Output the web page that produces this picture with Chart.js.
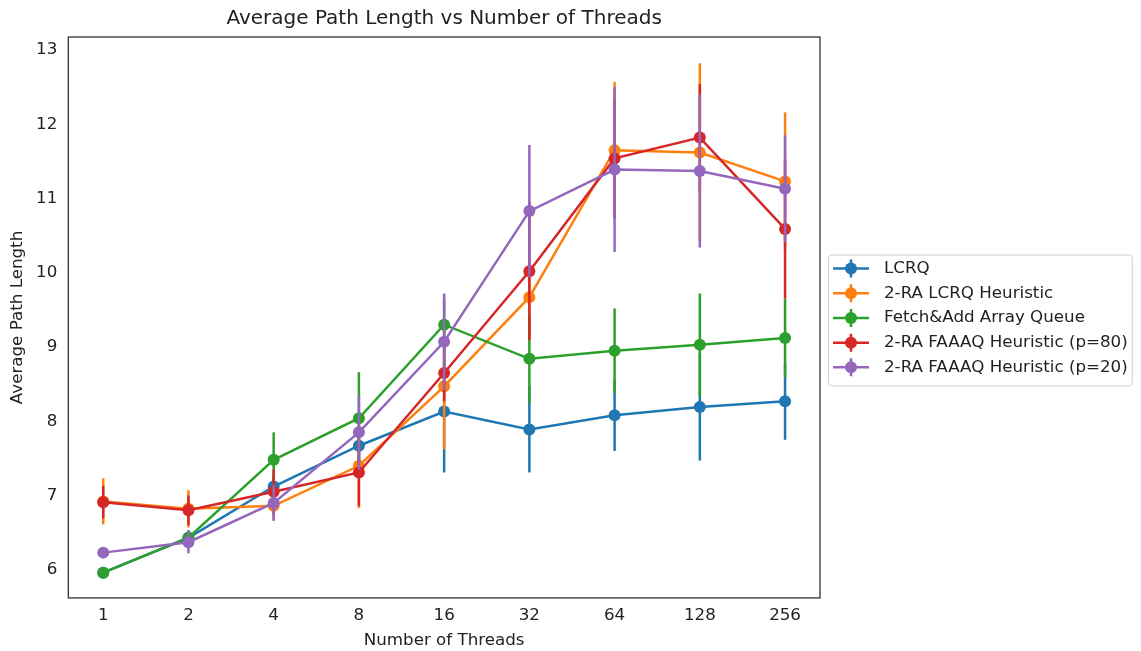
<!DOCTYPE html>
<html>
<head>
<meta charset="utf-8">
<script src="https://cdn.jsdelivr.net/npm/chart.js@4"></script>
<style>
  html, body { margin: 0; padding: 0; background: #fff; }
  #wrap { width: 1141px; height: 651px; }
</style>
</head>
<body>
<div id="wrap"><canvas id="pathChart"></canvas></div>
<script>
// thread counts on the x axis
const threads = [1, 2, 4, 8, 16, 32, 64, 128, 256];

const labels = [
    'LCRQ',
    '2-RA LCRQ Heuristic',
    'Fetch&Add Array Queue',
    '2-RA FAAAQ Heuristic (p=80)',
    '2-RA FAAAQ Heuristic (p=20)'
];

// mean path length per series
const lcrq      = [5.96, 6.43, 7.12, 7.67, 8.13, 7.89, 8.08, 8.19, 8.27];
const lcrq2ra   = [6.92, 6.82, 6.86, 7.40, 8.47, 9.67, 11.65, 11.62, 11.23];
const faaaq     = [5.96, 6.43, 7.48, 8.04, 9.30, 8.84, 8.95, 9.03, 9.12];
const faaaqP80  = [6.91, 6.80, 7.05, 7.31, 8.65, 10.02, 11.54, 11.82, 10.59];
const faaaqP20  = [6.23, 6.37, 6.90, 7.85, 9.07, 10.83, 11.39, 11.37, 11.13];

// error bar half-widths
const lcrqErr     = [0.05, 0.10, 0.15, 0.20, 0.82, 0.58, 0.48, 0.72, 0.52];
const lcrq2raErr  = [0.31, 0.25, 0.20, 0.57, 0.85, 0.50, 0.92, 1.20, 0.93];
const faaaqErr    = [0.03, 0.10, 0.37, 0.62, 0.35, 0.60, 0.57, 0.69, 0.53];
const faaaqP80Err = [0.22, 0.20, 0.30, 0.45, 0.38, 0.93, 0.80, 0.72, 0.94];
const faaaqP20Err = [0.05, 0.15, 0.24, 0.50, 0.65, 0.89, 1.11, 1.03, 0.72];

const colors = ['#1f77b4', '#ff7f0e', '#2ca02c', '#d62728', '#9467bd'];
const means = [lcrq, lcrq2ra, faaaq, faaaqP80, faaaqP20];
const errs = [lcrqErr, lcrq2raErr, faaaqErr, faaaqP80Err, faaaqP20Err];

const FONT = 'DejaVu Sans';
const FS = 16.7;

// draws a dataset's error bars just before its line so the z-order matches
const errorBars = {
    id: 'errorBars',
    beforeDatasetDraw(chart, args) {
        const i = args.index;
        const ds = chart.data.datasets[i];
        const x = chart.scales.x, y = chart.scales.y;
        const ctx = chart.ctx;
        ctx.save();
        ctx.strokeStyle = ds.borderColor;
        ctx.lineWidth = 2.5;
        ds.data.forEach((p, j) => {
            const e = errs[i][j];
            const px = x.getPixelForValue(p.x);
            ctx.beginPath();
            ctx.moveTo(px, y.getPixelForValue(p.y - e));
            ctx.lineTo(px, y.getPixelForValue(p.y + e));
            ctx.stroke();
        });
        ctx.restore();
    }
};

// frame around the plot, chart title and a matplotlib-style legend on the right
const frame = {
    id: 'frame',
    afterDraw(chart) {
        const ctx = chart.ctx;
        const a = chart.chartArea;
        ctx.save();
        ctx.strokeStyle = '#222';
        ctx.lineWidth = 1.2;
        ctx.strokeRect(a.left, a.top, a.right - a.left, a.bottom - a.top);

        ctx.fillStyle = '#222';
        ctx.font = '20px "' + FONT + '"';
        ctx.textAlign = 'center';
        ctx.textBaseline = 'middle';
        ctx.fillText('Average Path Length vs Number of Threads', (a.left + a.right) / 2, 19);

        // legend
        const ds = chart.data.datasets;
        const rowH = 24.7;
        const left = a.right + 8;
        const firstY = (a.top + a.bottom) / 2 - rowH * (ds.length - 1) / 2 + 0.5;
        ctx.font = FS + 'px "' + FONT + '"';
        let maxW = 0;
        ds.forEach(d => { maxW = Math.max(maxW, ctx.measureText(d.label).width); });
        const textX = left + 56;
        const top = firstY - 14;
        const bottom = firstY + rowH * (ds.length - 1) + 18;
        ctx.strokeStyle = '#d0d0d0';
        ctx.lineWidth = 1;
        ctx.fillStyle = 'rgba(255,255,255,0.8)';
        ctx.beginPath();
        ctx.roundRect(left + 0.5, top + 0.5, textX + maxW + 4 - left, bottom - top, 3);
        ctx.fill();
        ctx.stroke();
        ctx.textAlign = 'left';
        ds.forEach((d, k) => {
            const cy = firstY + k * rowH;
            ctx.strokeStyle = d.borderColor;
            ctx.fillStyle = d.borderColor;
            ctx.lineWidth = 2.5;
            ctx.beginPath();
            ctx.moveTo(left + 5, cy); ctx.lineTo(left + 41, cy);
            ctx.moveTo(left + 23, cy - 9); ctx.lineTo(left + 23, cy + 9);
            ctx.stroke();
            ctx.beginPath();
            ctx.arc(left + 23, cy, 6, 0, Math.PI * 2);
            ctx.fill();
            ctx.fillStyle = '#222';
            ctx.fillText(d.label, textX, cy);
        });
        ctx.restore();
    }
};

const ctx = document.getElementById('pathChart').getContext('2d');

const pathChart = new Chart(ctx, {
    type: 'line',
    data: {
        datasets: means.map((m, i) => ({
            label: labels[i],
            data: threads.map((t, j) => ({ x: Math.log2(t), y: m[j] })),
            borderColor: colors[i],
            backgroundColor: colors[i],
            borderWidth: 2.5,
            pointRadius: 6,
            pointHoverRadius: 6,
            pointBorderWidth: 0,
            tension: 0,
            order: means.length - 1 - i
        }))
    },
    options: {
        responsive: true,
        maintainAspectRatio: false,
        animation: false,
        layout: { padding: { top: 37, left: 4, right: 321, bottom: 0 } },
        scales: {
            x: {
                type: 'linear',
                min: -0.41,
                max: 8.41,
                grid: { display: false, drawTicks: true, tickLength: 6, tickColor: '#222' },
                border: { display: false },
                ticks: {
                    stepSize: 1,
                    includeBounds: false,
                    autoSkip: false,
                    color: '#222',
                    padding: 2,
                    font: { family: FONT, size: FS },
                    callback: v => Number.isInteger(v) ? String(2 ** v) : ''
                },
                title: {
                    display: true,
                    text: 'Number of Threads',
                    color: '#222',
                    font: { family: FONT, size: FS },
                    padding: { top: 3, bottom: 0 }
                }
            },
            y: {
                min: 5.62,
                max: 13.175,
                grid: { display: false, drawTicks: true, tickLength: 6, tickColor: '#222' },
                border: { display: false },
                ticks: {
                    stepSize: 1,
                    includeBounds: false,
                    color: '#222',
                    padding: 5,
                    font: { family: FONT, size: FS }
                },
                title: {
                    display: true,
                    text: 'Average Path Length',
                    color: '#222',
                    font: { family: FONT, size: FS },
                    padding: { top: 4, bottom: 3 }
                }
            }
        },
        plugins: {
            title: { display: false },
            tooltip: { enabled: false },
            legend: { display: false }
        }
    },
    plugins: [errorBars, frame]
});
</script>
</body>
</html>
